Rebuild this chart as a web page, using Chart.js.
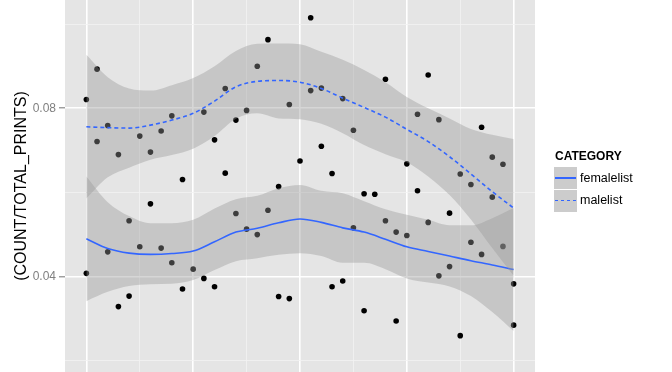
<!DOCTYPE html>
<html>
<head>
<meta charset="utf-8">
<script src="https://cdn.jsdelivr.net/npm/chart.js@4.4.0/dist/chart.umd.min.js"></script>
<style>
  html, body { margin: 0; padding: 0; background: #ffffff; }
  #wrap { position: relative; width: 672px; height: 372px; overflow: hidden;
          font-family: "Liberation Sans", Arial, Helvetica, sans-serif; }
  #c { position: absolute; left: 0; top: 0; }
  .lg-title { position: absolute; left: 555px; top: 149px; font-size: 12px; font-weight: bold;
              line-height: 14px; color: #000; white-space: nowrap; }
  .lg-key { position: absolute; left: 554px; width: 23px; height: 22px; background: #CCCCCC; }
  .lg-line { position: absolute; left: 1px; right: 1px; top: 10px; height: 1.6px; }
  .lg-solid { background: #3366FF; }
  .lg-dash { background: repeating-linear-gradient(to right, #3366FF 0 3px, transparent 3px 6px); }
  .lg-label { position: absolute; left: 580px; font-size: 12.5px; line-height: 22px; color: #000; white-space: nowrap; }
</style>
</head>
<body>
<div id="wrap">
  <canvas id="c" width="672" height="372"></canvas>
  <div id="legend"></div>
</div>
<script>
// ---------- data ----------
const xValues = [0,1,2,3,4,5,6,7,8,9,10,11,12,13,14,15,16,17,18,19,20,
                 21,22,23,24,25,26,27,28,29,30,31,32,33,34,35,36,37,38,39,40];
const maleValues = [0.0821,0.0893,0.0759,0.0690,0.0533,0.0734,0.0696,0.0746,0.0782,0.0631,null,
                    0.0791,0.0725,0.0847,0.0772,0.0795,0.0900,0.0963,0.0614,0.0809,null,
                    0.1015,0.0848,0.0645,0.0823,0.0748,0.0597,null,0.0869,0.0506,0.0668,
                    0.0786,0.0879,0.0773,0.0551,0.0644,0.0619,0.0755,0.0684,0.0667,0.0383];
const femaleValues = [0.0408,0.0721,0.0459,0.0329,0.0354,0.0471,0.0573,0.0468,0.0433,0.0371,0.0418,
                      0.0396,0.0376,0.0646,0.0550,0.0513,0.0500,0.0558,0.0353,0.0348,0.0675,
                      0.0842,0.0710,0.0376,0.0390,0.0516,0.0319,0.0596,0.0533,0.0295,0.0498,
                      0.0604,0.0529,0.0402,0.0424,0.0260,0.0482,0.0453,0.0589,0.0472,0.0285];

const smoothX = [0,2,4,6,8,10,12,14,16,18,20,22,24,26,28,30,32,34,36,38,40];
const maleFit   = [0.0756,0.0754,0.0753,0.0760,0.0772,0.0788,0.0817,0.0851,0.0864,0.0866,0.0862,
                   0.0847,0.0824,0.0802,0.0779,0.0750,0.0721,0.0685,0.0644,0.0602,0.0563];
const maleUpper = [0.0927,0.0874,0.0847,0.0842,0.0855,0.0872,0.0900,0.0936,0.0953,0.0954,0.0952,
                   0.0934,0.0915,0.0891,0.0862,0.0827,0.0800,0.0776,0.0751,0.0737,0.0727];
const maleLower = [0.0586,0.0636,0.0659,0.0678,0.0689,0.0704,0.0734,0.0775,0.0788,0.0776,0.0774,
                   0.0763,0.0741,0.0713,0.0691,0.0672,0.0638,0.0594,0.0536,0.0468,0.0402];
const femaleFit   = [0.0490,0.0467,0.0456,0.0453,0.0455,0.0461,0.0483,0.0506,0.0515,0.0528,0.0537,
                     0.0529,0.0516,0.0506,0.0489,0.0471,0.0460,0.0449,0.0438,0.0428,0.0417];
const femaleUpper = [0.0638,0.0577,0.0544,0.0527,0.0527,0.0535,0.0562,0.0584,0.0592,0.0610,0.0618,
                     0.0604,0.0598,0.0579,0.0560,0.0547,0.0535,0.0522,0.0522,0.0539,0.0563];
const femaleLower = [0.0342,0.0364,0.0378,0.0382,0.0383,0.0392,0.0416,0.0437,0.0444,0.0452,0.0456,
                     0.0449,0.0433,0.0433,0.0418,0.0396,0.0386,0.0377,0.0354,0.0316,0.0271];

const seriesNames = ['femalelist', 'malelist'];
const legendTitle = 'CATEGORY';
const yTitle = '(COUNT/TOTAL_PRINTS)';
const yTicks = [0.02, 0.04, 0.06, 0.08, 0.10];
const yLabelled = [0.04, 0.08];
const xTicks = [0, 5, 10, 15, 20, 25, 30, 35, 40];
const xMajor = [0, 10, 20, 30, 40];

// ---------- helpers ----------
const pts = (xs, ys) => xs.map((x, i) => ({ x: x, y: ys[i] }));
const isLabelled = v => yLabelled.some(t => Math.abs(t - v) < 1e-9);
const isXMajor = v => xMajor.some(t => Math.abs(t - v) < 1e-9);
const noPad = s => { s.paddingTop = 0; s.paddingBottom = 0; s.paddingLeft = 0; s.paddingRight = 0; };

const BLUE = '#3366FF';
const RIBBON = 'rgba(153,153,153,0.4)';
const NONE = 'rgba(0,0,0,0)';

const bandBase = { borderColor: NONE, borderWidth: 0, pointRadius: 0, cubicInterpolationMode: 'monotone' };
const lineBase = { borderColor: BLUE, borderWidth: 1.6, pointRadius: 0, fill: false, cubicInterpolationMode: 'monotone' };
const pointBase = { showLine: false, pointRadius: 2.8, pointHoverRadius: 2.8, pointBackgroundColor: '#000000',
                    pointBorderWidth: 0, borderColor: NONE, backgroundColor: '#000000', fill: false };

const panelBg = {
  id: 'panelBg',
  beforeDraw(chart) {
    const a = chart.chartArea, ctx = chart.ctx;
    ctx.save();
    ctx.fillStyle = '#E5E5E5';
    ctx.fillRect(a.left, a.top, a.right - a.left, a.bottom - a.top);
    ctx.restore();
  }
};

new Chart(document.getElementById('c'), {
  type: 'line',
  data: {
    datasets: [
      Object.assign({}, lineBase, { label: seriesNames[1], data: pts(smoothX, maleFit), borderDash: [4, 3], order: 0 }),
      Object.assign({}, bandBase, { label: 'maleUpper', data: pts(smoothX, maleUpper), fill: 2, backgroundColor: RIBBON, order: 1 }),
      Object.assign({}, bandBase, { label: 'maleLower', data: pts(smoothX, maleLower), fill: false, order: 1 }),
      Object.assign({}, lineBase, { label: seriesNames[0], data: pts(smoothX, femaleFit), order: 2 }),
      Object.assign({}, bandBase, { label: 'femaleUpper', data: pts(smoothX, femaleUpper), fill: 5, backgroundColor: RIBBON, order: 3 }),
      Object.assign({}, bandBase, { label: 'femaleLower', data: pts(smoothX, femaleLower), fill: false, order: 3 }),
      Object.assign({}, pointBase, { label: seriesNames[1] + ' points', data: pts(xValues, maleValues), order: 4 }),
      Object.assign({}, pointBase, { label: seriesNames[0] + ' points', data: pts(xValues, femaleValues), order: 4 })
    ]
  },
  options: {
    responsive: false,
    animation: false,
    devicePixelRatio: 1,
    events: [],
    layout: { autoPadding: false, padding: { left: 0, right: 137, top: 0, bottom: 0 } },
    plugins: { legend: { display: false }, tooltip: { enabled: false } },
    scales: {
      x: {
        type: 'linear',
        min: -2, max: 42,
        afterBuildTicks: s => { s.ticks = xTicks.map(v => ({ value: v })); },
        afterFit: s => { s.height = 0; noPad(s); },
        ticks: { display: false },
        border: { display: false },
        grid: {
          drawTicks: false,
          color: c => (c.tick && isXMajor(c.tick.value)) ? '#FFFFFF' : '#F2F2F2',
          lineWidth: c => (c.tick && isXMajor(c.tick.value)) ? 1.6 : 0.8
        }
      },
      y: {
        type: 'linear',
        min: 0.01737, max: 0.10572,
        afterBuildTicks: s => { s.ticks = yTicks.map(v => ({ value: v })); },
        afterFit: s => { s.width = 65; noPad(s); },
        border: { display: false },
        ticks: {
          color: '#7F7F7F',
          padding: 3,
          font: { family: '"Liberation Sans", Arial, sans-serif', size: 12 },
          callback: v => isLabelled(v) ? v.toFixed(2) : ''
        },
        grid: {
          drawTicks: true,
          tickLength: 6,
          tickWidth: 1.1,
          tickColor: c => (c.tick && isLabelled(c.tick.value)) ? '#7F7F7F' : NONE,
          color: c => (c.tick && isLabelled(c.tick.value)) ? '#FFFFFF' : '#F2F2F2',
          lineWidth: c => (c.tick && isLabelled(c.tick.value)) ? 1.6 : 0.8
        },
        title: {
          display: true,
          text: yTitle,
          color: '#000000',
          font: { family: '"Liberation Sans", Arial, sans-serif', size: 16 },
          padding: { top: 12, bottom: 0 }
        }
      }
    }
  },
  plugins: [panelBg]
});

// ---------- legend (HTML text) ----------
(function buildLegend() {
  const lg = document.getElementById('legend');
  const t = document.createElement('div');
  t.className = 'lg-title';
  t.textContent = legendTitle;
  lg.appendChild(t);
  const styles = ['lg-solid', 'lg-dash'];
  const tops = [167, 189.5];
  seriesNames.forEach((name, i) => {
    const k = document.createElement('div');
    k.className = 'lg-key';
    k.style.top = tops[i] + 'px';
    const ln = document.createElement('div');
    ln.className = 'lg-line ' + styles[i];
    k.appendChild(ln);
    lg.appendChild(k);
    const l = document.createElement('div');
    l.className = 'lg-label';
    l.style.top = (tops[i] - 0.5) + 'px';
    l.textContent = name;
    lg.appendChild(l);
  });
})();
</script>
</body>
</html>
